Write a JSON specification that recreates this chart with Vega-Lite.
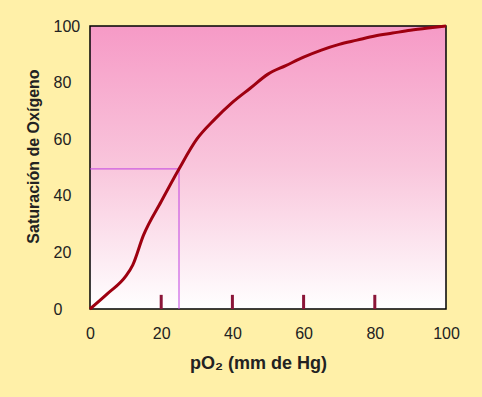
{
  "$schema": "https://vega.github.io/schema/vega-lite/v6.json",
  "width": 356,
  "height": 283,
  "autosize": {"type": "none"},
  "padding": {"left": 90, "top": 26, "right": 36, "bottom": 88},
  "background": "#FFF0A8",
  "config": {
    "view": {
      "stroke": "#000000",
      "strokeWidth": 1.5,
      "fill": {
        "gradient": "linear",
        "x1": 0, "y1": 0, "x2": 0, "y2": 1,
        "stops": [
          {"offset": 0, "color": "#F69AC6"},
          {"offset": 0.5, "color": "#F9C6DC"},
          {"offset": 1, "color": "#FFFFFF"}
        ]
      }
    },
    "axis": {
      "grid": false,
      "ticks": false,
      "domain": false,
      "labelFont": "Liberation Sans",
      "labelFontSize": 16,
      "labelColor": "#222222",
      "labelFlush": false,
      "labelOverlap": false,
      "titleFont": "Liberation Sans",
      "titleFontWeight": "bold",
      "titleColor": "#222222"
    }
  },
  "datasets": {
    "curve": [
      {"p": 0, "s": 0}, {"p": 5, "s": 5.5}, {"p": 10, "s": 11.5}, {"p": 12, "s": 15.5},
      {"p": 15, "s": 26}, {"p": 20, "s": 38}, {"p": 25, "s": 49.5}, {"p": 30, "s": 60},
      {"p": 35, "s": 67}, {"p": 40, "s": 73}, {"p": 45, "s": 78}, {"p": 50, "s": 83},
      {"p": 55, "s": 86}, {"p": 60, "s": 89}, {"p": 65, "s": 91.5}, {"p": 70, "s": 93.5},
      {"p": 75, "s": 95}, {"p": 80, "s": 96.5}, {"p": 85, "s": 97.5}, {"p": 90, "s": 98.5},
      {"p": 95, "s": 99.3}, {"p": 100, "s": 100}
    ],
    "guides": [
      {"x1": 0, "y1": 49.5, "x2": 25, "y2": 49.5},
      {"x1": 25, "y1": 0, "x2": 25, "y2": 49.5}
    ],
    "marks": [
      {"p": 20, "lo": 0, "hi": 5},
      {"p": 40, "lo": 0, "hi": 5},
      {"p": 60, "lo": 0, "hi": 5},
      {"p": 80, "lo": 0, "hi": 5}
    ]
  },
  "layer": [
    {
      "data": {"name": "guides"},
      "mark": {"type": "rule", "color": "#C040E0", "strokeWidth": 1},
      "encoding": {
        "x": {"field": "x1", "type": "quantitative", "scale": {"domain": [0, 100]},
              "axis": {"values": [0, 20, 40, 60, 80, 100], "labelPadding": 16, "title": "pO₂ (mm de Hg)", "titleFontSize": 18, "titlePadding": 13, "titleX": 168}},
        "x2": {"field": "x2"},
        "y": {"field": "y1", "type": "quantitative", "scale": {"domain": [0, 100]},
              "axis": {"values": [0, 20, 40, 60, 80, 100], "labelAlign": "left", "labelPadding": 37, "title": "Saturación de Oxígeno", "titleFontSize": 16, "titlePadding": 12, "titleY": 130}},
        "y2": {"field": "y2"}
      }
    },
    {
      "data": {"name": "marks"},
      "mark": {"type": "rule", "color": "#8B1538", "strokeWidth": 3},
      "encoding": {
        "x": {"field": "p", "type": "quantitative"},
        "y": {"field": "lo", "type": "quantitative"},
        "y2": {"field": "hi"}
      }
    },
    {
      "data": {"name": "curve"},
      "mark": {"type": "line", "color": "#9E0010", "strokeWidth": 3, "interpolate": "monotone"},
      "encoding": {
        "x": {"field": "p", "type": "quantitative"},
        "y": {"field": "s", "type": "quantitative"}
      }
    }
  ]
}
